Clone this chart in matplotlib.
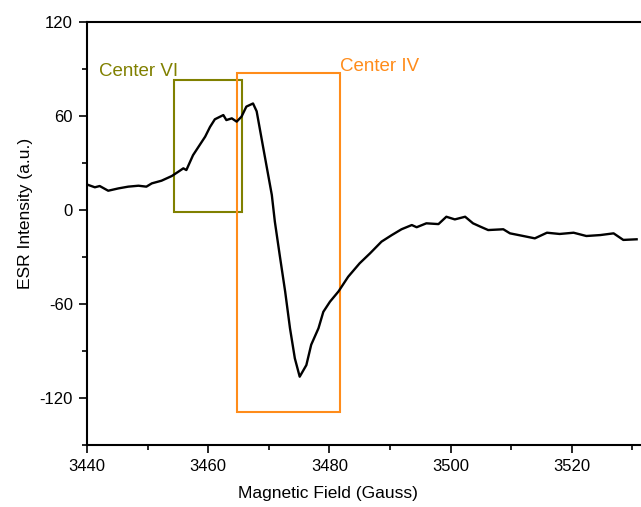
import numpy as np
import matplotlib.pyplot as plt
from matplotlib.patches import Rectangle
from matplotlib.ticker import MultipleLocator

plt.rcParams['font.family'] = ['Liberation Sans', 'DejaVu Sans']
plt.rcParams['axes.unicode_minus'] = False

# ESR spectrum
field = [3440.2, 3441.3, 3442.1, 3443.5, 3445.2, 3446.8, 3448.5, 3449.8, 3450.7, 3452.3,
         3454.0, 3455.1, 3455.9, 3456.4, 3457.5, 3458.6, 3459.5, 3460.3, 3461.1, 3462.5,
         3463.0, 3463.9, 3464.7, 3465.5, 3466.3, 3467.4, 3468.0, 3469.1, 3470.5, 3471.0,
         3471.8, 3472.7, 3473.5, 3474.3, 3475.1, 3476.2, 3477.0, 3478.2, 3479.0, 3480.1,
         3481.5, 3483.1, 3485.0, 3486.7, 3488.6, 3490.3, 3491.9, 3493.6, 3494.4, 3496.0,
         3498.0, 3499.3, 3500.7, 3502.4, 3503.7, 3504.9, 3506.2, 3508.7, 3509.8, 3512.0,
         3513.9, 3515.9, 3518.0, 3520.3, 3522.4, 3524.7, 3526.9, 3528.5, 3530.7]
intensity = [16.0, 14.5, 15.3, 12.3, 13.8, 14.9, 15.5, 14.9, 17.0, 18.7,
             21.7, 24.5, 26.6, 25.5, 35.0, 41.5, 46.8, 53.0, 57.9, 60.6,
             57.4, 58.5, 56.4, 59.6, 66.0, 68.0, 63.0, 39.4, 9.6, -7.4,
             -28.7, -52.0, -75.5, -94.7, -106.4, -99.0, -86.0, -75.5, -65.0, -58.5,
             -52.0, -42.6, -34.0, -27.7, -20.2, -16.0, -12.3, -9.6, -11.0, -8.5,
             -9.0, -4.3, -6.0, -4.3, -8.5, -10.6, -12.8, -12.3, -14.9, -16.6,
             -18.1, -14.5, -15.3, -14.5, -16.6, -16.0, -14.9, -19.1, -18.7]

x_ticks = [3440, 3460, 3480, 3500, 3520]
x_minor = [3450, 3470, 3490, 3510, 3530]

# highlighted regions: (x0, x1, y0, y1)
center_vi = (3454.4, 3465.6, -1.3, 83.0)
center_iv = (3464.75, 3481.75, -129.0, 87.4)
olive = '#808000'
orange = '#FF8C1A'

fig = plt.figure(figsize=(6.41, 5.07), dpi=100)
ax = fig.add_axes([0.1357, 0.1223, 0.9454, 0.8343])

ax.plot(field, intensity, color='black', linewidth=1.7)

for box, col in [(center_vi, olive), (center_iv, orange)]:
    ax.add_patch(Rectangle((box[0], box[2]), box[1] - box[0], box[3] - box[2],
                           fill=False, edgecolor=col, linewidth=1.5))

ax.text(3442.0, 88.7, 'Center VI', color=olive, fontsize=13.5, va='center')
ax.text(3481.75, 91.3, 'Center IV', color=orange, fontsize=13.5, va='center')

ax.set_xlim(3440, 3540)
ax.set_ylim(-150, 120)
ax.set_xticks(x_ticks)
ax.set_xticks(x_minor, minor=True)
ax.yaxis.set_major_locator(MultipleLocator(60))
ax.yaxis.set_minor_locator(MultipleLocator(30))
ax.tick_params(which='major', direction='out', length=6, width=1.2, labelsize=12, pad=4)
ax.tick_params(which='minor', direction='out', length=3.5, width=1.2)

for s in ax.spines.values():
    s.set_linewidth(1.5)

ax.set_xlabel('Magnetic Field (Gauss)', fontsize=12.5)
ax.set_ylabel('ESR Intensity (a.u.)', fontsize=12.5)
ax.xaxis.set_label_coords(0.398, -0.097)
ax.yaxis.set_label_coords(-0.089, 0.548)

plt.savefig('out.png', dpi=100)
